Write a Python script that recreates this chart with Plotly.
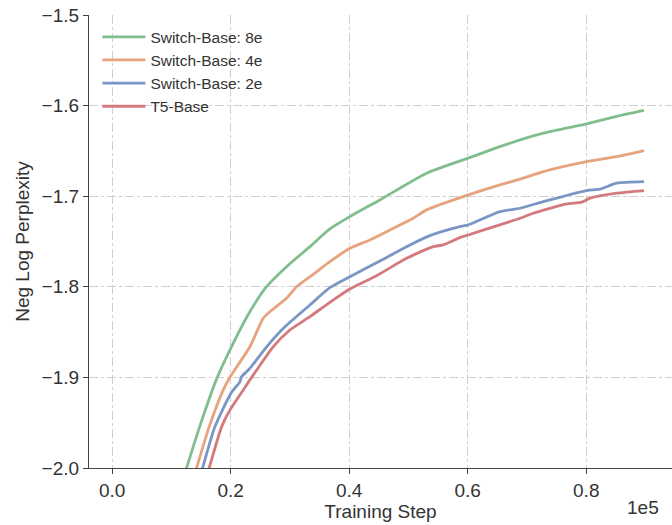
import plotly.graph_objects as go

# Training steps (x) and negative log perplexity (y) for each model
green_x = [11072, 12557, 14802, 17621, 20422, 23241, 26060, 29435, 33368, 36743, 40119,
           45182, 53064, 60086, 65436, 72744, 80070, 85133, 89741]
green_y = [-2.0300, -2.0000, -1.9538, -1.9019, -1.8624, -1.8275, -1.7999, -1.7778, -1.7557,
           -1.7361, -1.7225, -1.7041, -1.6746, -1.6580, -1.6452, -1.6304, -1.6201, -1.6120,
           -1.6054]

orange_x = [12811, 14245, 16372, 18735, 19865, 23241, 25486, 26617, 29435, 31123, 33925,
            36743, 40119, 43494, 46870, 50803, 53064, 60086, 65436, 68812, 72744, 80070,
            85133, 89741]
orange_y = [-2.0297, -2.0000, -1.9546, -1.9140, -1.9000, -1.8662, -1.8348, -1.8275, -1.8127,
            -1.7999, -1.7862, -1.7723, -1.7575, -1.7483, -1.7372, -1.7243, -1.7151, -1.6986,
            -1.6875, -1.6812, -1.6728, -1.6618, -1.6562, -1.6496]

blue_x = [13891, 15258, 17334, 20034, 21553, 21840, 23241, 26060, 28862, 33368, 36743,
          40119, 45182, 49689, 53621, 58684, 60086, 65436, 68812, 72744, 80070, 82314,
          85133, 89741]
blue_y = [-2.0297, -2.0000, -1.9546, -1.9177, -1.9049, -1.8993, -1.8901, -1.8662, -1.8459,
          -1.8201, -1.8010, -1.7888, -1.7715, -1.7557, -1.7435, -1.7336, -1.7317, -1.7170,
          -1.7133, -1.7060, -1.6938, -1.6923, -1.6856, -1.6839]

red_x = [14954, 16372, 18465, 19865, 21891, 23798, 27174, 29993, 33368, 36743, 40119,
         44626, 49689, 54180, 55868, 58684, 60086, 68812, 71058, 76696, 79228, 80628,
         85133, 89741]
red_y = [-2.0297, -2.0000, -1.9546, -1.9361, -1.9162, -1.8975, -1.8662, -1.8477, -1.8330,
         -1.8171, -1.8024, -1.7877, -1.7685, -1.7557, -1.7538, -1.7457, -1.7428, -1.7243,
         -1.7188, -1.7085, -1.7066, -1.7022, -1.6967, -1.6938]

series_names = ["Switch-Base: 8e", "Switch-Base: 4e", "Switch-Base: 2e", "T5-Base"]
series_colors = ["#80BE8E", "#E6A37D", "#7996C4", "#D37A7D"]

x_tickvals = [0, 20000, 40000, 60000, 80000]
x_ticktext = ["0.0", "0.2", "0.4", "0.6", "0.8"]
y_tickvals = [-2.0, -1.9, -1.8, -1.7, -1.6, -1.5]
y_ticktext = ["\u22122.0", "\u22121.9", "\u22121.8", "\u22121.7", "\u22121.6", "\u22121.5"]

FONT = "Liberation Sans"
TXT = "#333333"

fig = go.Figure()
for name, color, xs, ys in zip(series_names, series_colors,
                               [green_x, orange_x, blue_x, red_x],
                               [green_y, orange_y, blue_y, red_y]):
    fig.add_trace(go.Scatter(x=xs, y=ys, mode="lines", name=name,
                             line=dict(color=color, width=2.8, shape="spline", smoothing=0.6)))

axis_common = dict(
    showgrid=True, gridcolor="#cfcfcf", griddash="dashdot", gridwidth=1,
    showline=True, linecolor="#444444", linewidth=1.3,
    ticks="outside", ticklen=5, tickwidth=1.3, tickcolor="#444444",
    tickfont=dict(family=FONT, size=19, color=TXT),
    zeroline=False, mirror=False,
)

fig.update_xaxes(range=[-3900, 94470], tickvals=x_tickvals, ticktext=x_ticktext,
                 title=dict(text="Training Step", font=dict(family=FONT, size=19, color=TXT),
                            standoff=1),
                 **axis_common)
fig.update_yaxes(range=[-2.0, -1.5], tickvals=y_tickvals, ticktext=y_ticktext,
                 title=dict(text="Neg Log Perplexity", font=dict(family=FONT, size=19, color=TXT),
                            standoff=6),
                 **axis_common)

fig.add_annotation(text="1e5", xref="paper", yref="paper", x=1.0, y=0, xanchor="right",
                   yanchor="top", yshift=-27, xshift=-11, showarrow=False,
                   font=dict(family=FONT, size=19, color=TXT))

fig.update_layout(
    width=672, height=525,
    margin=dict(l=89, r=0, t=15, b=57, autoexpand=False),
    plot_bgcolor="white", paper_bgcolor="white",
    font=dict(family=FONT, color=TXT),
    legend=dict(x=0.0144, y=0.9885, xanchor="left", yanchor="top", itemwidth=43,
                bgcolor="rgba(0,0,0,0)", font=dict(family=FONT, size=15.5, color=TXT)),
)

fig.write_html("out.html", config={"displayModeBar": False},
               post_script="document.body.style.margin='0';")
